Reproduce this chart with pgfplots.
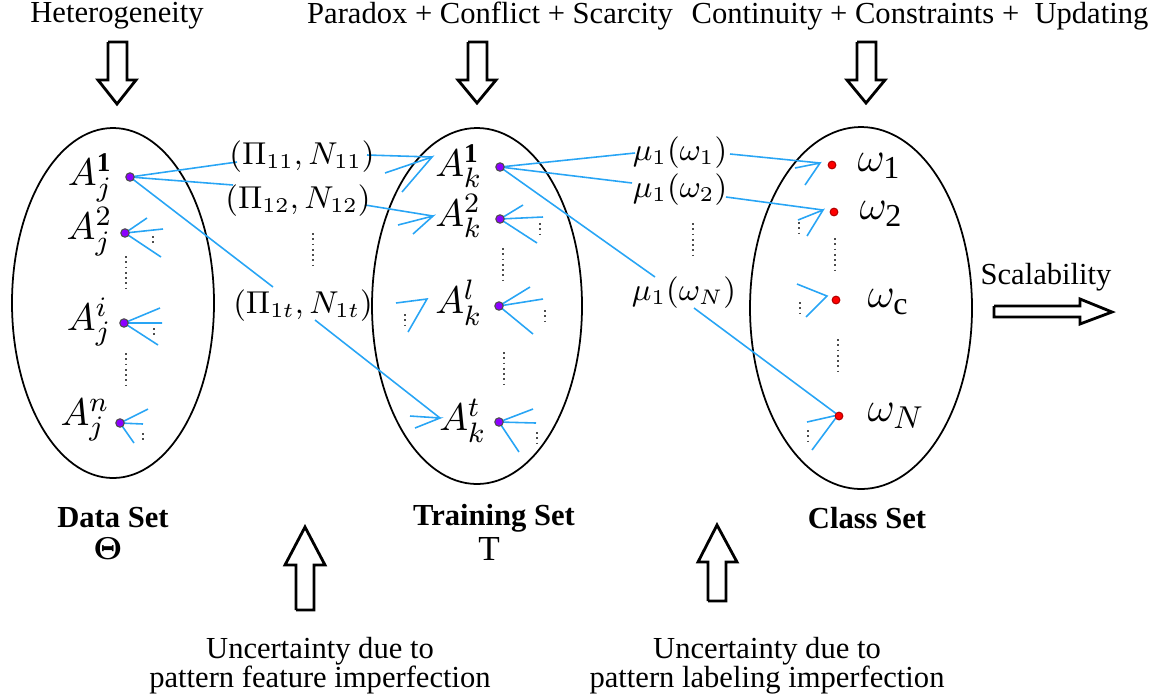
\documentclass[border=0pt]{standalone}
\usepackage{amsmath}
\usepackage{fontspec}
\setmainfont{Liberation Serif}
\usepackage{pgfplots}
\pgfplotsset{compat=1.18}
\definecolor{lb}{RGB}{40,165,245}
\definecolor{pdot}{RGB}{140,0,255}
\begin{document}
\begin{tikzpicture}[
  every node/.style={inner sep=0pt},
  bl/.style={color=lb,line width=0.45pt},
  dt/.style={black!70,densely dotted,line width=0.5pt},
  blk/.style={black,line width=0.8pt,fill=white},
  tx/.style={font=\fontsize{8.7}{8.2}\selectfont},
  mt/.style={font=\fontsize{11}{13}\selectfont},
  mw/.style={font=\fontsize{13}{15}\selectfont},
  ms/.style={font=\fontsize{9}{11}\selectfont},
  ]
\begin{axis}[width=11.59cm,height=6.95cm,scale only axis,
  xmin=0,xmax=1159,ymin=0,ymax=695,y dir=reverse,
  hide axis,clip=false,
  ]
\path (axis cs:0,0) rectangle (axis cs:1159,695);
% ellipses
\draw[line width=0.5pt] (axis cs:113,303) ellipse [x radius=1.01cm, y radius=1.75cm];
\draw[line width=0.5pt] (axis cs:477,306) ellipse [x radius=1.05cm, y radius=1.78cm];
\draw[line width=0.5pt] (axis cs:861,308) ellipse [x radius=1.11cm, y radius=1.81cm];

% top block arrows
\addplot[blk,no markers] coordinates {(108,42)(127,42)(127,80)(136,80)(117,104)(98,80)(108,80)(108,42)};
\addplot[blk,no markers] coordinates {(468,42)(487,42)(487,80)(496,80)(477,103)(458,80)(468,80)(468,42)};
\addplot[blk,no markers] coordinates {(857,42)(876,42)(876,80)(885,80)(866,103)(847,80)(857,80)(857,42)};
% bottom block arrows
\addplot[blk,no markers] coordinates {(296,610)(314,610)(314,565)(325,565)(305,527)(285,565)(296,565)(296,610)};
\addplot[blk,no markers] coordinates {(708,601)(726,601)(726,562)(737,562)(717,525)(698,562)(708,562)(708,601)};
% scalability arrow
\addplot[blk,no markers] coordinates {(994,306)(1080,306)(1080,299)(1112,312)(1080,324)(1080,317)(994,317)(994,306)};

% blue lines: data set to training set
\addplot[bl,no markers] coordinates {(130,177)(237,162)};
\addplot[bl,no markers] coordinates {(130,177)(233,185)};
\addplot[bl,no markers] coordinates {(130,177)(273,287)};
\addplot[bl,no markers] coordinates {(367,155)(432,157)};
\addplot[bl,no markers] coordinates {(385,173)(432,157)(402,192)};
\addplot[bl,no markers] coordinates {(365,205)(433,216)};
\addplot[bl,no markers] coordinates {(398,225)(433,216)(413,234)};
\addplot[bl,no markers] coordinates {(315,320)(440,418)};
\addplot[bl,no markers] coordinates {(410,416)(440,418)(415,428)};
\addplot[bl,no markers] coordinates {(396,303)(427,299)(408,332)};
% fans in data set
\addplot[bl,no markers] coordinates {(147,218)(125,233)(163,229)};
\addplot[bl,no markers] coordinates {(125,233)(161,257)};
\addplot[bl,no markers] coordinates {(160,308)(124,323)(162,323)};
\addplot[bl,no markers] coordinates {(124,323)(158,345)};
\addplot[bl,no markers] coordinates {(148,409)(120,423)(143,424)};
\addplot[bl,no markers] coordinates {(120,423)(134,443)};
% training set to class set
\addplot[bl,no markers] coordinates {(500,167)(635,153)};
\addplot[bl,no markers] coordinates {(500,167)(632,183)};
\addplot[bl,no markers] coordinates {(500,167)(655,277)};
\addplot[bl,no markers] coordinates {(523,205)(500,219)(543,217)};
\addplot[bl,no markers] coordinates {(500,219)(537,243)};
\addplot[bl,no markers] coordinates {(530,287)(499,306)(543,299)};
\addplot[bl,no markers] coordinates {(499,306)(533,334)};
\addplot[bl,no markers] coordinates {(533,409)(499,422)(536,423)};
\addplot[bl,no markers] coordinates {(499,422)(519,452)};
\addplot[bl,no markers] coordinates {(730,154)(820,163)};
\addplot[bl,no markers] coordinates {(795,168)(820,163)(805,185)};
\addplot[bl,no markers] coordinates {(726,197)(823,210)};
\addplot[bl,no markers] coordinates {(798,220)(823,210)(807,236)};
\addplot[bl,no markers] coordinates {(797,284)(827,296)(806,317)};
\addplot[bl,no markers] coordinates {(694,308)(838,415)};
\addplot[bl,no markers] coordinates {(807,422)(838,415)(812,450)};

% dotted ellipsis marks
\addplot[dt,no markers] coordinates {(126,256)(126,290)};
\addplot[dt,no markers] coordinates {(126,353)(126,387)};
\addplot[dt,no markers] coordinates {(153,236)(153,246)};
\addplot[dt,no markers] coordinates {(154,328)(154,338)};
\addplot[dt,no markers] coordinates {(143,433)(143,443)};
\addplot[dt,no markers] coordinates {(313,233)(313,267)};
\addplot[dt,no markers] coordinates {(405,314)(405,325)};
\addplot[dt,no markers] coordinates {(503,248)(503,282)};
\addplot[dt,no markers] coordinates {(504,352)(504,386)};
\addplot[dt,no markers] coordinates {(540,223)(540,236)};
\addplot[dt,no markers] coordinates {(545,310)(545,322)};
\addplot[dt,no markers] coordinates {(537,432)(537,444)};
\addplot[dt,no markers] coordinates {(693,223)(693,257)};
\addplot[dt,no markers] coordinates {(835,238)(835,272)};
\addplot[dt,no markers] coordinates {(838,339)(838,373)};
\addplot[dt,no markers] coordinates {(799,222)(799,235)};
\addplot[dt,no markers] coordinates {(800,302)(800,314)};
\addplot[dt,no markers] coordinates {(808,430)(808,443)};

% dots
\addplot[only marks,mark=*,mark size=1.2pt,mark options={fill=pdot,draw=black!70,line width=0.3pt}]
  coordinates {(130,177)(125,233)(124,323)(120,423)(500,167)(500,219)(499,306)(499,422)};
\addplot[only marks,mark=*,mark size=1.1pt,mark options={fill=red,draw=red!70!black,line width=0.3pt}]
  coordinates {(832,165)(834,212)(836,300)(839,416)};

% math labels
\node[mt,anchor=east] at (axis cs:113,178) {$A_j^{\mathbf{1}}$};
\node[mt,anchor=east] at (axis cs:113,232) {$A_j^{2}$};
\node[mt,anchor=east] at (axis cs:112,322) {$A_j^{i}$};
\node[mt,anchor=east] at (axis cs:110,420) {$A_j^{n}$};
\node[mt,anchor=east] at (axis cs:483,166) {$A_k^{\mathbf{1}}$};
\node[mt,anchor=east] at (axis cs:483,216) {$A_k^{2}$};
\node[mt,anchor=east] at (axis cs:483,303) {$A_k^{l}$};
\node[mt,anchor=east] at (axis cs:487,421) {$A_k^{t}$};
\node[mw,anchor=west] at (axis cs:857,166) {$\omega_{\mathrm{1}}$};
\node[mw,anchor=west] at (axis cs:859,214) {$\omega_{\mathrm{2}}$};
\node[mw,anchor=west] at (axis cs:867,302) {$\omega_{\mathrm{c}}$};
\node[mw,anchor=west] at (axis cs:867,416) {$\omega_{N}$};
\node[ms] at (axis cs:302,157) {$(\Pi_{11},N_{11})$};
\node[ms] at (axis cs:298,201) {$(\Pi_{12},N_{12})$};
\node[ms] at (axis cs:303,306) {$(\Pi_{1t},N_{1t})$};
\node[ms] at (axis cs:680,153) {$\mu_1(\omega_1)$};
\node[ms] at (axis cs:680,190) {$\mu_1(\omega_2)$};
\node[ms] at (axis cs:684,293) {$\mu_1(\omega_N)$};

% text labels
\node[tx] at (axis cs:117,16) {Heterogeneity};
\node[tx] at (axis cs:490,16) {Paradox + Conflict + Scarcity};
\node[tx] at (axis cs:920,16) {Continuity + Constraints +~ Updating};
\node[tx] at (axis cs:1046,277) {Scalability};
\node[font=\fontsize{8.7}{10}\selectfont\bfseries] at (axis cs:113,518) {Data Set};
\node[font=\fontsize{8.7}{10}\selectfont\bfseries] at (axis cs:494,518) {Training Set};
\node[font=\fontsize{8.7}{10}\selectfont\bfseries] at (axis cs:867,518) {Class Set};
\node[font=\fontsize{9}{10}\selectfont] at (axis cs:108,549) {$\boldsymbol{\Theta}$};
\node[font=\fontsize{10}{11}\selectfont] at (axis cs:489,549) {T};
\node[font=\fontsize{10}{11}\selectfont] at (axis cs:868,549) {$\mathbf{\Omega}$};
\node[tx,align=center] at (axis cs:320,666) {Uncertainty due to\\pattern feature imperfection};
\node[tx,align=center] at (axis cs:767,666) {Uncertainty due to\\pattern labeling imperfection};
\end{axis}
\end{tikzpicture}
\end{document}
